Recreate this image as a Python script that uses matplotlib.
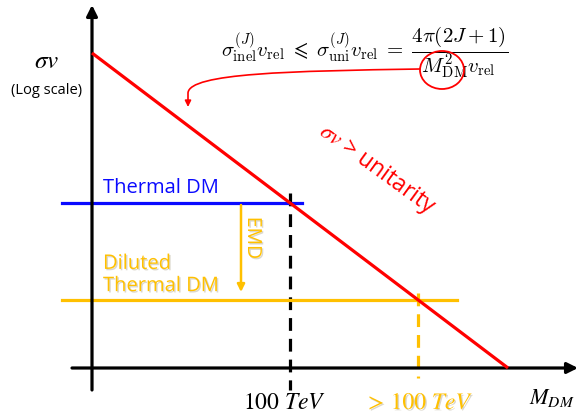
import matplotlib.pyplot as plt
import numpy as np
from matplotlib.patches import Ellipse, FancyArrowPatch
from matplotlib.path import Path
import matplotlib.patheffects as pe

plt.rcParams['mathtext.fontset'] = 'stix'
plt.rcParams['font.family'] = ['Open Sans', 'DejaVu Sans']

# schematic coordinates: x = mass (arb.), y = log(sigma v) (arb.)
unitarity_x = [0, 416]
unitarity_y = [315, 0]
thermal_level = 165
diluted_level = 68
thermal_span = [-30, 210]
diluted_span = [-30, 365]

RED = '#ff0000'
BLUE = '#0a0aff'
GOLD = '#ffc000'

# mass where a given sigma v level meets the unitarity bound
def cross_mass(level):
	return np.interp(level, unitarity_y[::-1], unitarity_x[::-1])

m_thermal = cross_mass(thermal_level)
m_diluted = cross_mass(diluted_level)

fig = plt.figure(figsize=(5.79, 4.18), dpi=100)
ax = fig.add_axes([0, 0, 1, 1])
ax.set_xlim(-92, 487)
ax.set_ylim(-50, 368)
ax.axis('off')

shadow = [pe.withSimplePatchShadow(offset=(1, -1), alpha=0.2)]

# axes arrows
arw = dict(arrowstyle='-|>', lw=2.3, color='k', mutation_scale=16, shrinkA=0, shrinkB=0)
ax.annotate('', xy=(0, 363), xytext=(0, -22), arrowprops=arw)
ax.annotate('', xy=(486, 0), xytext=(-20, 0), arrowprops=arw)

# unitarity bound
ax.plot(unitarity_x, unitarity_y, color=RED, lw=2.3, solid_capstyle='butt', zorder=3)

# relic levels
ax.plot(thermal_span, [thermal_level] * 2, color=BLUE, lw=2.3, zorder=2)
ax.plot(diluted_span, [diluted_level] * 2, color=GOLD, lw=2.3, zorder=2)

# mass markers
ax.plot([m_thermal, m_thermal], [175, -22], color='k', lw=2.3, ls=(0, (4, 2.5)), zorder=1)
ax.plot([m_diluted, m_diluted], [75, -10], color=GOLD, lw=2.3, ls=(0, (4, 2.5)), zorder=1)

# EMD dilution arrow
ax.annotate('', xy=(149, 76), xytext=(149, thermal_level - 2),
            arrowprops=dict(arrowstyle='-|>', lw=1.8, color=GOLD, mutation_scale=11,
                            shrinkA=0, shrinkB=0))
ax.text(161, 130, 'EMD', color=GOLD, fontsize=14, rotation=-90,
        ha='center', va='center', path_effects=shadow)

ax.text(11, 180, 'Thermal DM', color=BLUE, fontsize=14.5, ha='left', va='center')
ax.text(11, 93, 'Diluted\nThermal DM', color=GOLD, fontsize=14.5, ha='left', va='center',
        linespacing=1.15, path_effects=shadow)

ax.text(285, 198, r'$\sigma v$ > unitarity', color=RED, fontsize=16.5,
        rotation=-36, rotation_mode='anchor', ha='center', va='center')

# axis labels
ax.text(-45, 307, r'$\sigma v$', fontsize=18, ha='center', va='center')
ax.text(-45, 277, '(Log scale)', fontsize=10.5, ha='center', va='center')
ax.text(460, -30, r'$M_{DM}$', fontsize=16, ha='center', va='center')
ax.text(m_thermal - 6, -35, r'$100\ TeV$', fontsize=17, ha='center', va='center')
ax.text(m_diluted + 1, -35, r'$>\,100\ TeV$', color=GOLD, fontsize=17, ha='center',
        va='center', path_effects=shadow)

# unitarity formula
ax.text(273, 316,
        r'$\sigma^{(J)}_{\rm inel}v_{\rm rel}\;\leqslant\;\sigma^{(J)}_{\rm uni}v_{\rm rel}'
        r'\;=\;\dfrac{4\pi(2J+1)}{M^2_{\rm DM}v_{\rm rel}}$',
        fontsize=15, ha='center', va='center', math_fontfamily='cm')
ax.add_patch(Ellipse((350, 298), 44, 38, fill=False, ec=RED, lw=1.3, zorder=4))

# pointer from the mass term to the bound line
verts = [(328, 299), (200, 297), (97, 295), (96, 275), (96, 261)]
codes = [Path.MOVETO, Path.CURVE4, Path.CURVE4, Path.CURVE4, Path.LINETO]
ax.add_patch(FancyArrowPatch(path=Path(verts, codes), arrowstyle='-|>', color=RED,
                             lw=1.2, mutation_scale=9))

fig.savefig('out.png', dpi=100)
